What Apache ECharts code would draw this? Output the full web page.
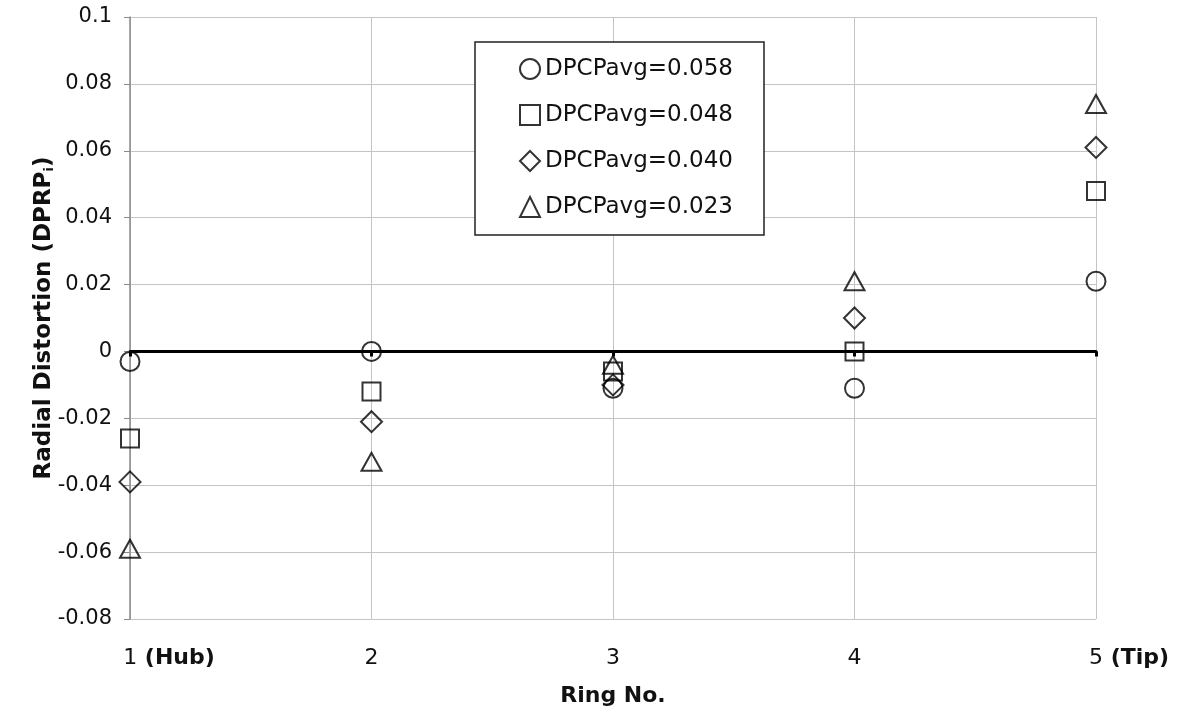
<!DOCTYPE html>
<html>
<head>
<meta charset="utf-8">
<script src="https://cdn.jsdelivr.net/npm/echarts@6/dist/echarts.min.js"></script>
<style>html,body{margin:0;padding:0;background:#fff}#c{width:1180px;height:715px}</style>
</head>
<body>
<div id="c"></div>
<script>
// ---- data ----
const rings = [1, 2, 3, 4, 5];
const ringLabels = ['1', '2', '3', '4', '5'];
const ringSuffix = ['(Hub)', '', '', '', '(Tip)'];
const seriesNames = ['DPCPavg=0.058', 'DPCPavg=0.048', 'DPCPavg=0.040', 'DPCPavg=0.023'];
const dpcp058 = [-0.003, 0.000, -0.011, -0.011, 0.021];
const dpcp048 = [-0.026, -0.012, -0.006, 0.000, 0.048];
const dpcp040 = [-0.039, -0.021, -0.010, 0.010, 0.061];
const dpcp023 = [-0.059, -0.033, -0.004, 0.021, 0.074];
const yTicks = { min: -0.08, max: 0.1, step: 0.02 };

const FONT = 'DejaVu Sans';
const symbols = ['circle', 'rect', 'diamond', 'triangle'];
const symbolSizes = [19, 18, [21, 21], [20, 18]];
const allValues = [dpcp058, dpcp048, dpcp040, dpcp023];

const series = allValues.map((vals, i) => ({
  name: seriesNames[i],
  type: 'scatter',
  xAxisIndex: 0,
  symbol: symbols[i],
  symbolSize: symbolSizes[i],
  itemStyle: { color: 'rgba(0,0,0,0)', borderColor: '#000', borderWidth: 2 },
  emphasis: { disabled: true },
  z: 5,
  data: rings.map((r, k) => [r, vals[k]])
}));

const chart = echarts.init(document.getElementById('c'), null, { renderer: 'canvas' });
chart.setOption({
  animation: false,
  backgroundColor: '#fff',
  textStyle: { fontFamily: FONT },
  grid: { left: 130, right: 84, top: 17, bottom: 96, containLabel: false },
  legend: {
    orient: 'vertical',
    left: 475, top: 42,
    padding: [14, 29, 15, 44],
    itemWidth: 20, itemHeight: 20,
    itemGap: 20,
    backgroundColor: '#fff',
    borderColor: '#222', borderWidth: 1.5,
    borderRadius: 0,
    textStyle: { fontFamily: FONT, fontSize: 23, color: '#111', lineHeight: 26, width: 190 },
    data: seriesNames
  },
  xAxis: [
    {
      type: 'value', min: 1, max: 5, interval: 1,
      position: 'bottom',
      axisLine: { show: false, onZero: false },
      axisTick: { show: false },
      splitLine: { show: true, lineStyle: { color: '#c4c4c4', width: 1 } },
      name: 'Ring No.',
      nameLocation: 'middle', nameGap: 66,
      nameTextStyle: { fontFamily: FONT, fontSize: 22, fontWeight: 'bold', color: '#111' },
      axisLabel: {
        margin: 28,
        fontFamily: FONT, fontSize: 22, color: '#111',
        align: 'center',
        formatter: function (v) {
          const k = rings.indexOf(v);
          if (k < 0) return '';
          const suf = ringSuffix[k];
          if (!suf) return '{n|' + ringLabels[k] + '}';
          return '{sp' + k + '| }{n|' + ringLabels[k] + '}{b| ' + suf + '}';
        },
        rich: {
          n: { fontFamily: FONT, fontSize: 22, color: '#111' },
          b: { fontFamily: FONT, fontSize: 22, fontWeight: 'bold', color: '#111' },
          sp0: { width: 78, fontSize: 22 },
          sp4: { width: 66, fontSize: 22 }
        }
      }
    },
    {
      type: 'value', min: 1, max: 5, interval: 1,
      position: 'bottom',
      axisLine: { show: true, onZero: true, lineStyle: { color: '#000', width: 3 } },
      axisTick: { show: true, length: 5, lineStyle: { color: '#000', width: 3 } },
      axisLabel: { show: false },
      splitLine: { show: false }
    }
  ],
  yAxis: {
    type: 'value',
    min: yTicks.min, max: yTicks.max, interval: yTicks.step,
    axisLine: { show: true, onZero: false, lineStyle: { color: '#8a8a8a', width: 1.5 } },
    axisTick: { show: true, length: 6, lineStyle: { color: '#8a8a8a', width: 1 } },
    splitLine: { show: true, lineStyle: { color: '#c4c4c4', width: 1 } },
    axisLabel: {
      margin: 18, fontFamily: FONT, fontSize: 21, color: '#111',
      formatter: v => String(+(+v).toFixed(2))
    },
    name: 'Radial Distortion (DPRP{s|i})',
    nameLocation: 'middle', nameGap: 74,
    nameMoveOverlap: false,
    nameTextStyle: {
      fontFamily: FONT, fontSize: 23, fontWeight: 'bold', color: '#111',
      rich: { s: { fontFamily: FONT, fontSize: 13, fontWeight: 'bold', color: '#111', verticalAlign: 'bottom', padding: [10, 0, 0, 0] } }
    }
  },
  series: series
});
</script>
</body>
</html>
